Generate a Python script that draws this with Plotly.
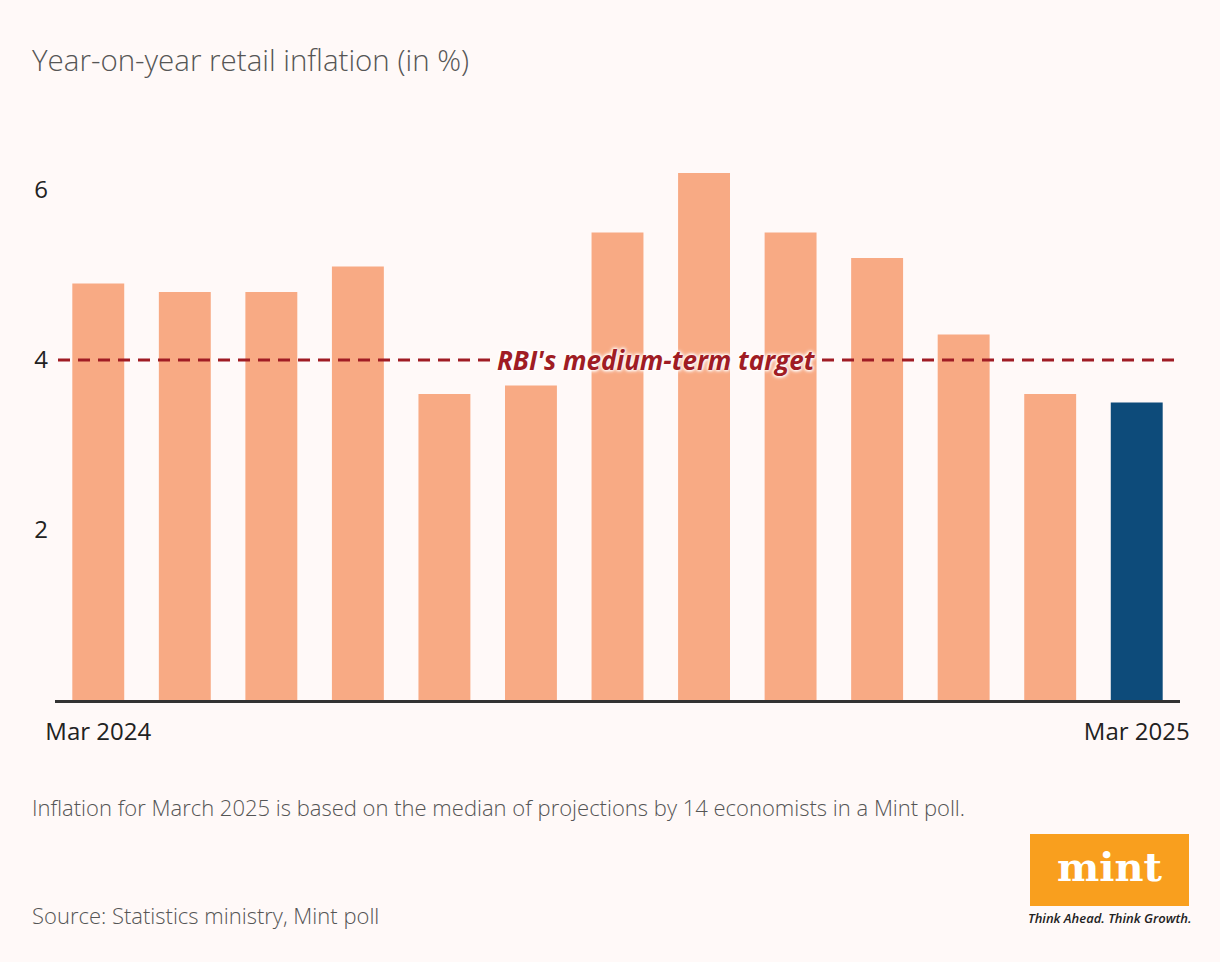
import plotly.graph_objects as go

months = ["Mar 2024", "Apr 2024", "May 2024", "Jun 2024", "Jul 2024", "Aug 2024",
          "Sep 2024", "Oct 2024", "Nov 2024", "Dec 2024", "Jan 2025", "Feb 2025", "Mar 2025"]
inflation = [4.9, 4.8, 4.8, 5.1, 3.6, 3.7, 5.5, 6.2, 5.5, 5.2, 4.3, 3.6, 3.5]
is_projection = [False] * 12 + [True]
target = 4
y_ticks = [2, 4, 6]
x_tick_labels = [months[0], months[-1]]

BG = "#fff9f8"
SALMON = "#f8aa84"
BLUE = "#0d4b7a"
RED = "#a01c24"

W, H = 1220, 962
L, R, T, B = 55, 40, 139, 262
PW, PH = W - L - R, H - T - B


def px(x):
    return (x - L) / PW


def py(y):
    return (H - B - y) / PH


colors = [BLUE if p else SALMON for p in is_projection]

fig = go.Figure()
fig.add_trace(go.Bar(x=months, y=inflation, marker=dict(color=colors, line=dict(width=0)),
                     hoverinfo="x+y"))

# target line, interrupted behind its label
for a, b in [(px(58), px(493)), (px(822), 1)]:
    fig.add_shape(type="line", xref="paper", yref="y", x0=a, x1=b, y0=target, y1=target,
                  line=dict(color=RED, width=3, dash="12px,8px"), layer="above")

fig.add_annotation(x=px(656), xref="paper", y=target, yref="y", text="<b><i>RBI's medium-term target</i></b>",
                   showarrow=False, xanchor="center", yanchor="middle",
                   font=dict(family="Open Sans", size=26, color=RED,
                             shadow="0px 0px 3px #fff, 0px 0px 3px #fff, 0px 0px 4px #fff, 0px 0px 5px #fff"))

fig.add_annotation(x=px(30), xref="paper", y=py(60), yref="paper", text="Year-on-year retail inflation (in %)",
                   showarrow=False, xanchor="left", yanchor="middle",
                   font=dict(family="Open Sans", size=29.5, color="#555555", weight=300))

fig.add_annotation(x=px(30), xref="paper", y=py(807), yref="paper",
                   text="Inflation for March 2025 is based on the median of projections by 14 economists in a Mint poll.",
                   showarrow=False, xanchor="left", yanchor="middle",
                   font=dict(family="Open Sans", size=22, color="#555555", weight=300))

fig.add_annotation(x=px(30), xref="paper", y=py(915), yref="paper",
                   text="Source: Statistics ministry, Mint poll",
                   showarrow=False, xanchor="left", yanchor="middle",
                   font=dict(family="Open Sans", size=22, color="#555555", weight=300))

# mint logo
fig.add_shape(type="rect", xref="paper", yref="paper", x0=px(1030), x1=px(1189), y0=py(906), y1=py(834),
              fillcolor="#f99f1e", line=dict(width=0), layer="above")
fig.add_annotation(x=px(1109.5), xref="paper", y=py(866), yref="paper", text="<b>mint</b>",
                   showarrow=False, xanchor="center", yanchor="middle",
                   font=dict(family="DejaVu Serif", size=40, color="#ffffff"))
fig.add_annotation(x=px(1109.5), xref="paper", y=py(918), yref="paper", text="<i>Think Ahead. Think Growth.</i>",
                   showarrow=False, xanchor="center", yanchor="middle",
                   font=dict(family="Open Sans", size=13, color="#222222", weight=600))

fig.update_layout(
    width=W, height=H,
    margin=dict(l=L, r=R, t=T, b=B),
    paper_bgcolor=BG, plot_bgcolor=BG,
    bargap=0.4, showlegend=False,
    font=dict(family="Open Sans", color="#222222"),
    xaxis=dict(type="category", range=[-0.5, 12.5], tickmode="array", tickvals=x_tick_labels,
               ticktext=x_tick_labels, showline=True, linecolor="#333333", linewidth=3,
               ticks="", showgrid=False, tickfont=dict(size=24, color="#222222"),
               ticklabelstandoff=8, fixedrange=True),
    yaxis=dict(range=[0, 6.6], tickmode="array", tickvals=y_ticks, ticktext=[str(v) for v in y_ticks],
               showgrid=False, zeroline=False, showline=False, ticks="",
               tickfont=dict(size=24, color="#222222"), ticklabelstandoff=6, fixedrange=True),
)

fig.write_html("out.html", config={"displayModeBar": False},
               post_script="document.body.style.margin='0px';document.body.style.overflow='hidden';"
                           "document.body.style.background='#fff9f8';")
